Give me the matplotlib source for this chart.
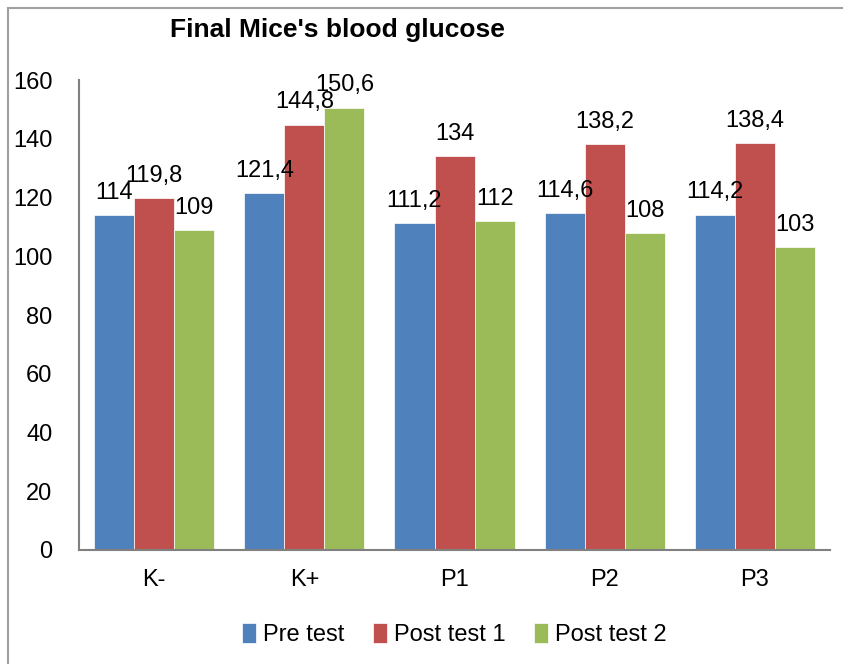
import numpy as np
import matplotlib.pyplot as plt
from matplotlib.patches import Rectangle

groups = ['K-', 'K+', 'P1', 'P2', 'P3']
series_names = ['Pre test', 'Post test 1', 'Post test 2']
pre_test = [114, 121.4, 111.2, 114.6, 114.2]
post_test_1 = [119.8, 144.8, 134, 138.2, 138.4]
post_test_2 = [109, 150.6, 112, 108, 103]
colors = ['#4F81BD', '#C0504D', '#9BBB59']

plt.rcParams['font.family'] = ['Liberation Sans', 'DejaVu Sans']

fig = plt.figure(figsize=(8.43, 6.64), dpi=100)
ax = fig.add_axes([0.0937, 0.1717, 0.891, 0.7078])

# gray frame round the chart
fig.patches.append(Rectangle((8/843, -0.05), 1.5, 1 - 8/664 + 0.05,
                             transform=fig.transFigure, fill=False,
                             edgecolor='#A0A0A0', linewidth=1.5))

x = np.arange(len(groups))
w = 0.8 / 3
for i, (vals, name) in enumerate(zip([pre_test, post_test_1, post_test_2], series_names)):
    pos = x + (i - 1) * w
    ax.bar(pos, vals, width=w, color=colors[i], label=name, edgecolor='white', linewidth=0.5)
    for px, v in zip(pos, vals):
        txt = f'{v:g}'.replace('.', ',')
        ax.text(px, v + 3.8, txt, ha='center', va='bottom', fontsize=17)

ax.set_xlim(-0.5, 4.5)
ax.set_ylim(0, 160)
ax.set_yticks(range(0, 161, 20))
ax.set_xticks(x)
ax.set_xticklabels(groups)
ax.tick_params(axis='y', length=0, labelsize=17, pad=19)
ax.tick_params(axis='x', length=0, labelsize=17, pad=14)
for s in ['top', 'right']:
    ax.spines[s].set_visible(False)
for s in ['left', 'bottom']:
    ax.spines[s].set_color('#808080')
    ax.spines[s].set_linewidth(1.5)

fig.text(0.40, 0.955, "Final Mice's blood glucose", ha='center', va='center',
         fontsize=19, fontweight='bold')

ax.legend(loc='center', bbox_to_anchor=(0.5, -0.18), ncol=3, frameon=False,
          fontsize=17, handlelength=0.6, handleheight=0.9, handletextpad=0.3,
          columnspacing=1.2)

fig.savefig('out.png', dpi=100)
